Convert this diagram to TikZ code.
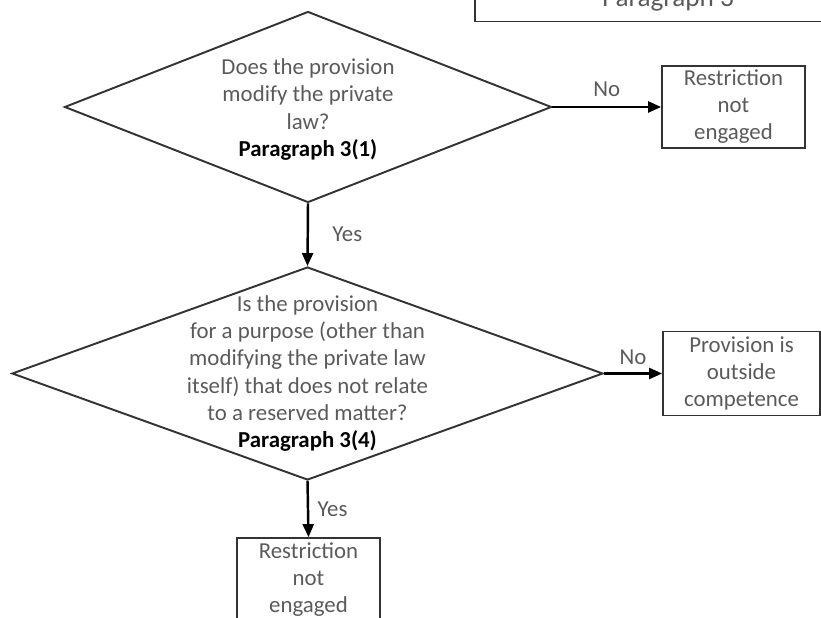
\documentclass[tikz,border=0pt]{standalone}
\usepackage{fontspec}
\setmainfont{Carlito}
\usepackage{tikz}
\usetikzlibrary{shapes.geometric,arrows.meta,positioning}
\definecolor{textgrey}{HTML}{5A5A5A}
\definecolor{linegrey}{HTML}{333333}

\begin{document}
\begin{tikzpicture}[
    decision/.style={diamond, draw=linegrey, line width=1.1pt, inner sep=0pt},
    question/.style={align=center, text=textgrey, font=\fontsize{13}{15.4}\selectfont},
    outcome/.style={rectangle, draw=linegrey, line width=1pt, align=center, text=textgrey, font=\fontsize{13}{15.4}\selectfont, minimum width=2.86cm, minimum height=1.64cm, inner sep=0pt},
    answer/.style={text=textgrey, font=\fontsize{13}{15.4}\selectfont},
    flow/.style={-{Triangle[length=0.26cm,width=0.22cm]}, line width=1.4pt}
]
    \useasboundingbox (0,0) rectangle (16.42,-12.36);
    \clip (0,0) rectangle (16.42,-12.36);

    % Top box (cut off by the page)
    \node[draw=linegrey, line width=1pt, text=textgrey, font=\fontsize{15.5}{18}\selectfont, minimum width=7.72cm, text height=1cm, text depth=0.19cm, inner sep=0.1cm, anchor=base] (para3) at (13.36,-0.14) {Paragraph 3};

    % Decisions
    \node[decision, minimum width=9.74cm, minimum height=3.82cm] (q1) at (6.16,-2.14) {};
    \node[question, yshift=-0.05cm] (q1text) at (q1) {Does the provision\\modify the private\\law?\\\textbf{\color{black}Paragraph 3(1)}};
    \node[decision, minimum width=11.82cm, minimum height=4.26cm] (q2) at (6.15,-7.47) {};
    \node[question] (q2text) at (q2) {Is the provision\\for a purpose (other than\\modifying the private law\\itself) that does not relate\\to a reserved matter?\\\textbf{\color{black}Paragraph 3(4)}};

    % Outcomes
    \node[outcome] (out1) at (14.67,-2.14) {Restriction\\not\\engaged};
    \node[outcome, minimum width=3.14cm, minimum height=1.68cm] (out2) at (14.83,-7.47) {Provision is\\outside\\competence};
    \node[outcome, minimum height=1.68cm] (out3) at (6.17,-11.6) {Restriction\\not\\engaged};

    % Arrows
    \draw[flow] (q1.east) -- node[answer, above=2pt] (no1) {No} (out1.west);
    \draw[flow] (q1.south) -- node[answer, right=10pt] (yes1) {Yes} (q2.north);
    \draw[flow] (q2.east) -- node[answer, above=1pt] (no2) {No} (out2.west);
    \draw[flow] (q2.south) -- node[answer, right=1.5pt] (yes2) {Yes} (out3.north);
\end{tikzpicture}
\end{document}
